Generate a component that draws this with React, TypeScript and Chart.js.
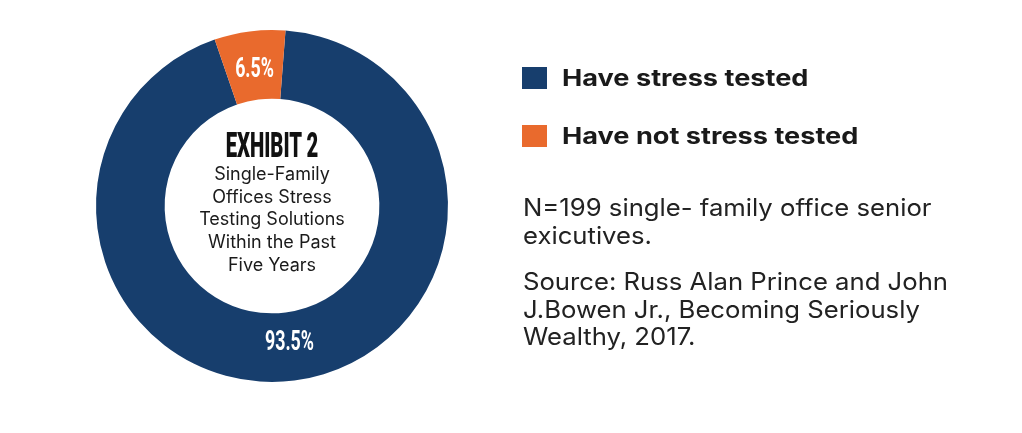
import React, { useEffect, useRef } from "react";
import { Chart, registerables } from "chart.js";

Chart.register(...registerables);

const categories = ["Have stress tested", "Have not stress tested"];
const values = [93.5, 6.5];
const valueLabels = ["93.5%", "6.5%"];
const colors = ["#173E6D", "#E96A2D"];
const centerTitle = "EXHIBIT 2";
const centerLines = ["Single-Family", "Offices Stress", "Testing Solutions", "Within the Past", "Five Years"];
const noteParagraphs = [
  ["N=199 single- family office senior", "exicutives."],
  ["Source: Russ Alan Prince and John", "J.Bowen Jr., Becoming Seriously", "Wealthy, 2017."],
];

const labelPlugin = {
  id: "arcLabels",
  afterDatasetsDraw(chart: any) {
    const { ctx } = chart;
    const meta = chart.getDatasetMeta(0);
    meta.data.forEach((arc: any, i: number) => {
      const { x, y, startAngle, endAngle, innerRadius, outerRadius } = arc.getProps(
        ["x", "y", "startAngle", "endAngle", "innerRadius", "outerRadius"],
        true
      );
      const mid = (startAngle + endAngle) / 2;
      const r = innerRadius + (outerRadius - innerRadius) * 0.44;
      ctx.save();
      ctx.translate(x + Math.cos(mid) * r, y + Math.sin(mid) * r + 1);
      ctx.scale(0.66, 1);
      ctx.fillStyle = "#ffffff";
      ctx.font = "bold 27px Roboto";
      ctx.textAlign = "center";
      ctx.textBaseline = "middle";
      ctx.fillText(valueLabels[i], 0, 0);
      ctx.restore();
    });
  },
};

export default function App() {
  const ref = useRef<HTMLCanvasElement | null>(null);
  useEffect(() => {
    if (!ref.current) return;
    const chart = new Chart(ref.current, {
      type: "doughnut",
      data: {
        labels: categories,
        datasets: [
          {
            data: values,
            backgroundColor: colors,
            borderWidth: 0,
            hoverOffset: 0,
            offset: 0,
          },
        ],
      },
      options: {
        animation: false,
        responsive: true,
        maintainAspectRatio: false,
        rotation: 4.4,
        cutout: "61%",
        layout: { padding: { left: 88, top: 22, right: 566, bottom: 36 } },
        plugins: { legend: { display: false }, tooltip: { enabled: false } },
      },
      plugins: [labelPlugin],
    });
    return () => chart.destroy();
  }, []);

  return (
    <div style={{ position: "relative", width: 1006, height: 410, fontFamily: "Inter, Roboto, sans-serif" }}>
      <canvas ref={ref} />
      <div
        style={{
          position: "absolute",
          left: 114,
          width: 300,
          top: 120,
          textAlign: "center",
          fontFamily: "Roboto",
          fontWeight: 900,
          fontSize: 35,
          lineHeight: "35px",
          color: "#111",
          transform: "scaleX(0.58)",
        }}
      >
        {centerTitle}
      </div>
      <div
        style={{
          position: "absolute",
          left: 139,
          width: 250,
          top: 155,
          textAlign: "center",
          fontFamily: "Inter, Roboto, sans-serif",
          fontSize: 18,
          lineHeight: "22.7px",
          color: "#1a1a1a",
        }}
      >
        {centerLines.map((l, i) => (
          <div key={i}>{l}</div>
        ))}
      </div>
      <div style={{ position: "absolute", left: 514, top: 57 }}>
        {categories.map((c, i) => (
          <div key={i} style={{ display: "flex", alignItems: "center", height: 26, marginBottom: i === 0 ? 32 : 0 }}>
            <div style={{ width: 25, height: 22, background: colors[i], marginRight: 15 }} />
            <div
              style={{
                fontSize: 23,
                fontWeight: 700,
                color: "#1a1a1a",
                fontFamily: "Inter, sans-serif",
                whiteSpace: "nowrap",
                transform: "scaleX(1.18)",
                transformOrigin: "left center",
              }}
            >
              {c}
            </div>
          </div>
        ))}
      </div>
      <div
        style={{
          position: "absolute",
          left: 515,
          top: 186,
          fontSize: 24,
          lineHeight: "27.5px",
          color: "#222",
          whiteSpace: "nowrap",
          transform: "scaleX(1.07)",
          transformOrigin: "left top",
        }}
      >
        {noteParagraphs.map((p, i) => (
          <div key={i} style={{ marginBottom: i === 0 ? 19 : 0 }}>
            {p.map((l, j) => (
              <div key={j}>{l}</div>
            ))}
          </div>
        ))}
      </div>
    </div>
  );
}
